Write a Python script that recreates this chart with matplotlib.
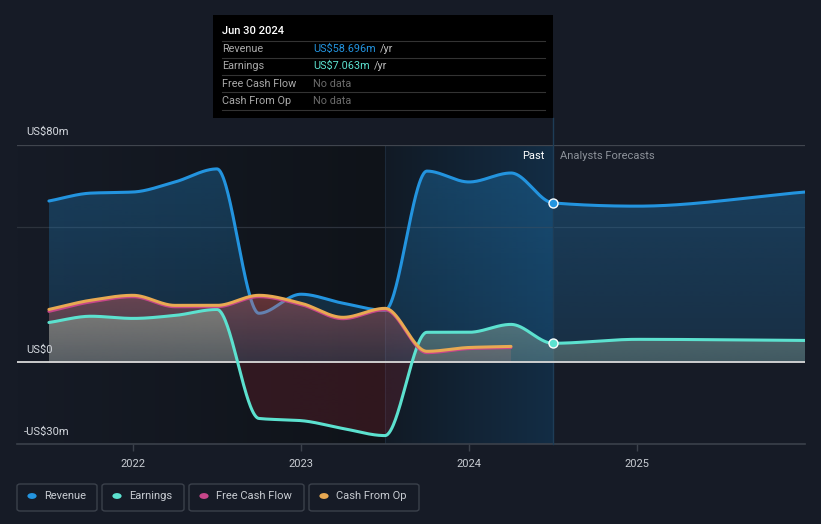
import numpy as np
import matplotlib
matplotlib.use("Agg")
import matplotlib.pyplot as plt
from matplotlib.patches import PathPatch, FancyBboxPatch, Rectangle, Circle
from matplotlib.colors import to_rgb

plt.rcParams['font.family'] = ['Roboto', 'DejaVu Sans']

# ---------------- data (US$ m) ----------------
past_t = [2021.5, 2021.75, 2022.0, 2022.25, 2022.5, 2022.75, 2023.0, 2023.25,
          2023.5, 2023.75, 2024.0, 2024.25, 2024.5]
revenue_past = [59.4, 62.3, 62.7, 66.4, 71.2, 18.1, 25.1, 21.8, 19.2, 70.4, 66.4, 69.7, 58.7]
earnings_past = [14.7, 17.0, 16.2, 17.3, 19.5, -20.6, -21.4, -24.3, -26.9, 11.1, 11.1, 14.0, 7.06]

cf_t = [2021.5, 2021.75, 2022.0, 2022.25, 2022.5, 2022.75, 2023.0, 2023.25,
        2023.5, 2023.75, 2024.0, 2024.25]
cfo = [19.5, 22.9, 24.7, 21.0, 21.0, 24.7, 21.8, 16.6, 19.9, 4.1, 5.5, 5.9]
fcf = [18.8, 22.3, 24.2, 20.5, 20.5, 24.2, 21.3, 16.1, 19.4, 3.6, 5.1, 5.5]

fc_t = [2024.5, 2025.0, 2026.0]
revenue_fc = [58.7, 57.5, 62.7]
earnings_fc = [7.06, 8.5, 8.1]

year_ticks = [2022, 2023, 2024, 2025]
y_labels = {80: "US$80m", 0: "US$0", -30: "-US$30m"}

# ---------------- colours ----------------
BG = "#161b26"
C_REV = "#2394df"
C_EARN = "#5ce1cf"
C_FCF = "#c7468a"
C_CFO = "#e8a952"

W, H = 821, 524
fig = plt.figure(figsize=(W / 100, H / 100), dpi=100, facecolor=BG)


def fx(x):
    return x / W


def fy(y):
    return 1 - y / H


ax = fig.add_axes([fx(17), fy(444), fx(805) - fx(17), (444 - 145) / H])
ax.set_facecolor(BG)
X0, X1 = 2021.31, 2026.0
Y0, Y1 = -30, 80


def pchip(x, y, n=60):
    x = np.asarray(x, float)
    y = np.asarray(y, float)
    h = np.diff(x)
    d = np.diff(y) / h
    m = np.zeros_like(y)
    m[0], m[-1] = d[0], d[-1]
    for k in range(1, len(x) - 1):
        if d[k - 1] * d[k] <= 0:
            m[k] = 0
        else:
            w1 = 2 * h[k] + h[k - 1]
            w2 = h[k] + 2 * h[k - 1]
            m[k] = (w1 + w2) / (w1 / d[k - 1] + w2 / d[k])
    xs, ys = [], []
    for k in range(len(x) - 1):
        t = np.linspace(0, 1, n, endpoint=(k == len(x) - 2))
        hk = h[k]
        h00 = 2 * t**3 - 3 * t**2 + 1
        h10 = t**3 - 2 * t**2 + t
        h01 = -2 * t**3 + 3 * t**2
        h11 = t**3 - t**2
        xs.append(x[k] + t * hk)
        ys.append(h00 * y[k] + h10 * hk * m[k] + h01 * y[k + 1] + h11 * hk * m[k + 1])
    return np.concatenate(xs), np.concatenate(ys)


def hgrad(x0, x1, c0, c1, z):
    c0, c1 = np.array(to_rgb(c0)), np.array(to_rgb(c1))
    t = np.linspace(0, 1, 256)
    img = (c0[None, :] * (1 - t[:, None]) + c1[None, :] * t[:, None])[None, :, :]
    ax.imshow(img, extent=[x0, x1, Y0, Y1], origin='lower', aspect='auto',
              zorder=z, interpolation='bilinear')


def grad_fill(xs, ys, color, a_top, a_zero, z, neg_color=None, neg_alpha=None):
    poly = ax.fill_between(xs, ys, 0, facecolor='none', edgecolor='none')
    path = poly.get_paths()[0]
    poly.remove()
    pmax = max(np.max(ys), 1e-6)
    nmin = min(np.min(ys), -1e-6)
    yy = np.linspace(Y0, Y1, 600)
    frac = np.where(yy >= 0, yy / pmax, yy / nmin)
    frac = np.clip(frac, 0, 1)
    alpha = a_zero + (a_top - a_zero) * frac
    img = np.zeros((600, 1, 4))
    img[..., :3] = to_rgb(color)
    img[..., 3] = alpha[:, None]
    if neg_color is not None:
        neg = yy < 0
        img[neg, 0, :3] = to_rgb(neg_color)
        img[neg, 0, 3] = neg_alpha
    im = ax.imshow(img, extent=[xs[0], xs[-1], Y0, Y1], origin='lower',
                   aspect='auto', zorder=z, interpolation='bilinear')
    patch = PathPatch(path, transform=ax.transData, facecolor='none', edgecolor='none')
    ax.add_patch(patch)
    im.set_clip_path(patch)


# background regions
hgrad(X0, 2023.5, BG, "#0f1319", 0)
hgrad(2023.5, 2024.5, "#111a25", "#132d45", 0)
ax.axvline(2023.5, color="#1c2a3a", lw=0.8, zorder=0.5)

# gridlines
ax.axhline(80, color="#40454e", lw=0.9, zorder=0.6)
ax.axhline(50, color="#2c323c", lw=0.9, zorder=0.6)
ax.axhline(-30, color="#3b414b", lw=1.2, zorder=0.6, clip_on=False)

# series curves
rev_x, rev_y = pchip(past_t + fc_t[1:], revenue_past + revenue_fc[1:])
earn_x, earn_y = pchip(past_t + fc_t[1:], earnings_past + earnings_fc[1:])
cfo_x, cfo_y = pchip(cf_t, cfo)
fcf_x, fcf_y = pchip(cf_t, fcf)

grad_fill(rev_x, rev_y, "#2394df", 0.30, 0.16, 1)
ax.plot(rev_x, rev_y, color=C_REV, lw=2.2, zorder=2, solid_capstyle='round')
grad_fill(fcf_x, fcf_y, "#d8605e", 0.42, 0.18, 3)
grad_fill(earn_x, earn_y, "#96b2a0", 0.50, 0.33, 4,
          neg_color="#bf2a36", neg_alpha=0.19)
ax.axhline(0, color="#d9d9d9", lw=1.3, zorder=4.8)
ax.plot(earn_x, earn_y, color=C_EARN, lw=2.2, zorder=5, solid_capstyle='round')
ax.plot(fcf_x, fcf_y, color=C_FCF, lw=2.2, zorder=6, solid_capstyle='round')
ax.plot(cfo_x, cfo_y, color=C_CFO, lw=2.2, zorder=7, solid_capstyle='round')

# now marker line and markers
ax.plot([2024.5, 2024.5], [Y0, 90], color="#1e3d57", lw=1.0, zorder=1.5, clip_on=False)
ax.scatter([past_t[-1]], [revenue_past[-1]], s=42, color=C_REV, edgecolor='white',
           linewidth=1.0, zorder=9)
ax.scatter([past_t[-1]], [earnings_past[-1]], s=42, color=C_EARN, edgecolor='white',
           linewidth=1.0, zorder=9)

ax.set_xlim(X0, X1)
ax.set_ylim(Y0, Y1)
for s in ax.spines.values():
    s.set_visible(False)
ax.set_yticks([])
ax.set_xticks(year_ticks)
ax.set_xticklabels([str(y) for y in year_ticks], color="#c8ccd2", fontsize=8)
ax.tick_params(axis='x', length=5, width=1, color="#3b414b", pad=6)

# y labels
fig.text(fx(26), fy(132), y_labels[80], color="#d4d8de", fontsize=8, va='center')
fig.text(fx(26), fy(350), y_labels[0], color="#d4d8de", fontsize=8, va='center')
fig.text(fx(24), fy(432), y_labels[-30], color="#d4d8de", fontsize=8, va='center')

# Past / Analysts Forecasts
fig.text(fx(544), fy(156), "Past", color="#ffffff", fontsize=8, va='center', ha='right')
fig.text(fx(560), fy(156), "Analysts Forecasts", color="#8c9199", fontsize=8, va='center')

# tooltip
fig.patches.append(Rectangle((fx(213), fy(118)), fx(553) - fx(213), (118 - 15) / H,
                             transform=fig.transFigure, facecolor="#000000",
                             edgecolor='none', zorder=10))
fig.text(fx(222), fy(31), "Jun 30 2024", color="#ffffff", fontsize=8, va='center',
         fontweight='medium', zorder=11)
for yy in [41, 58, 75, 92, 110]:
    fig.lines.append(plt.Line2D([fx(222), fx(545)], [fy(yy), fy(yy)],
                                transform=fig.transFigure, color="#333333", lw=0.8, zorder=11))
rows = [("Revenue", "US$58.696m", C_REV, 49),
        ("Earnings", "US$7.063m", C_EARN, 66),
        ("Free Cash Flow", None, None, 84),
        ("Cash From Op", None, None, 101)]
for lab, val, col, yy in rows:
    fig.text(fx(222), fy(yy), lab, color="#a9a9a9", fontsize=7.8, va='center', zorder=11)
    if val:
        t = fig.text(fx(313), fy(yy), val, color=col, fontsize=7.8, va='center', zorder=11)
        fig.canvas.draw()
        bb = t.get_window_extent()
        fig.text(bb.x1 / W + fx(4), fy(yy), "/yr", color="#bdbdbd", fontsize=7.8,
                 va='center', zorder=11)
    else:
        fig.text(fx(313), fy(yy), "No data", color="#6b6b6b", fontsize=7.8, va='center',
                 zorder=11)

# legend
legend_items = [("Revenue", C_REV, 17, 97), ("Earnings", C_EARN, 102, 184),
                ("Free Cash Flow", C_FCF, 189, 304), ("Cash From Op", C_CFO, 309, 419)]
for lab, col, x0, x1 in legend_items:
    fig.patches.append(FancyBboxPatch((fx(x0), fy(511)), fx(x1) - fx(x0), 27 / H,
                                      boxstyle="round,pad=0,rounding_size=0.004",
                                      transform=fig.transFigure, facecolor='none',
                                      edgecolor="#3b414b", lw=1.0))
    fig.patches.append(Circle((fx(x0 + 15), fy(496)), 4.6 / W, transform=fig.transFigure,
                              facecolor=col, edgecolor='none'))
    fig.text(fx(x0 + 27), fy(496), lab, color="#c8ccd2", fontsize=8, va='center')

fig.savefig("out.png", dpi=100, facecolor=BG)
